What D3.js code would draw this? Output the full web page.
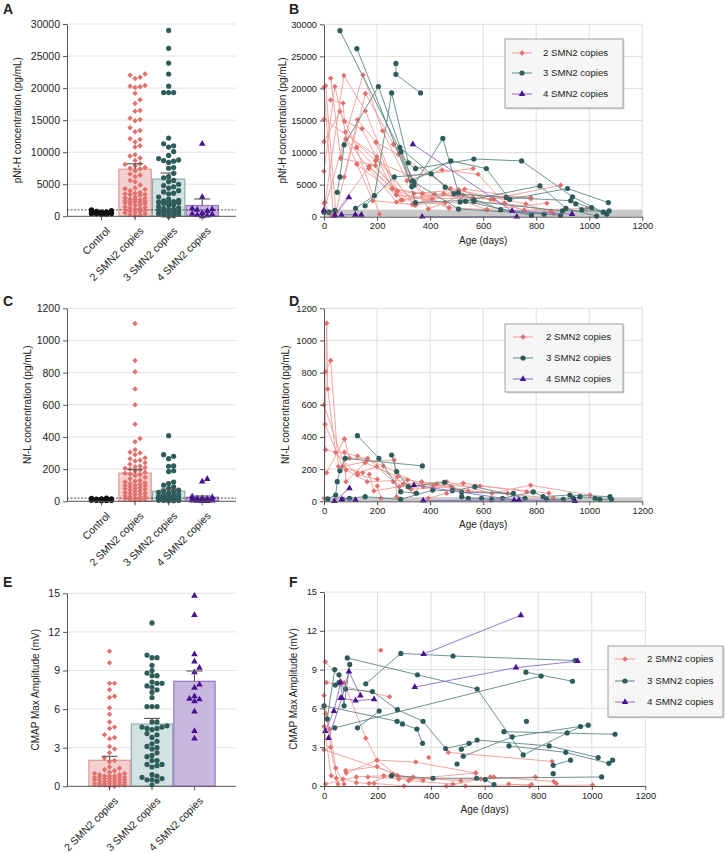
<!DOCTYPE html>
<html><head><meta charset="utf-8">
<script src="https://cdn.jsdelivr.net/npm/d3@7"></script>
<style>body{margin:0;background:#fff;} svg{display:block;font-family:"Liberation Sans",Arial,sans-serif;}</style>
</head><body><svg id="c" width="725" height="853"></svg>
<script>
// ---------- DATA ----------
const catsBar4 = ["Control","2 SMN2 copies","3 SMN2 copies","4 SMN2 copies"];
const catsBar3 = ["2 SMN2 copies","3 SMN2 copies","4 SMN2 copies"];
const legendLabels = ["2 SMN2 copies","3 SMN2 copies","4 SMN2 copies"];
const pnfhTicks = [0,5000,10000,15000,20000,25000,30000];
const nflTicks = [0,200,400,600,800,1000,1200];
const cmapTicks = [0,3,6,9,12,15];
const ageTicks = [0,200,400,600,800,1000,1200];

// Panel A values (pg/mL)
const pnfhCtrl = [350,500,650,420,780,600,300,550,700,450,380,620,520,900,1000,480,300,660,560,400];
const pnfh2 = [22200,22000,21700,21500,20400,20300,20200,20100,19200,18200,17600,16500,16400,15300,15100,14900,13800,13400,13200,12100,12000,11600,11000,10800,9600,9400,9100,8700,8200,8100,7900,7600,7500,7400,7100,6600,6400,6200,5600,5400,4900,4400,4300,4200,4000,3700,3600,3500,3400,3400,3300,3000,2900,2800,2700,2600,2600,2500,2400,2300,2200,2200,2100,2000,1900,1800,1700,1500,1400,1300,1200,1100,1000,900,800,700,600,500,400,300,200,100];
const pnfh3 = [29000,26200,23900,22200,20300,19300,19300,19300,12200,11300,11000,10800,10100,9500,9000,8800,8700,8600,8400,7600,7500,6700,6200,6000,5600,5400,5000,4800,4600,4400,4000,3800,3600,3500,3000,2700,2500,2400,2300,2200,2200,2100,2000,1800,1700,1500,1300,1200,1100,1000,900,800,700,600,500,400,300,200,100,0];
const pnfh4 = [11300,3000,1200,1100,1000,800,500,400,300,200,100,0];
const pnfhMean = [null,7350,5800,1680];
const pnfhErrTop = [null,8200,6750,2700];
const pnfhCutoff = 1000;

// Panel C values (pg/mL)
const nflCtrl = [5,8,12,15,10,6,9,18,14,7,11,4,13,16,9,6,10,12,8,20,5,7];
const nfl2 = [1105,875,806,698,600,479,390,370,320,305,300,290,270,265,255,250,240,230,220,215,210,205,200,195,190,180,175,170,165,160,150,140,130,125,120,115,110,105,100,98,95,90,85,80,78,75,70,65,60,55,50,48,45,40,35,30,28,25,20,18,15,12,10,5];
const nfl3 = [408,290,280,265,220,218,190,185,120,110,100,90,80,70,65,60,55,50,45,40,35,30,30,25,25,22,20,20,18,15,15,12,12,10,10,8,8,6,5,5,4,3];
const nfl4 = [138,122,30,25,20,18,15,12,10,10,8,6,5,5,4,3,2,2];
const nflMean = [null,175,62,25];
const nflErrTop = [null,199,75,33];
const nflCutoff = 20;

// Panel E values (mV)
const cmap2 = [10.5,9.6,8.0,8.0,7.5,7.0,6.9,6.1,5.6,5.0,4.6,4.5,4.0,3.8,3.7,3.1,2.9,2.6,2.2,2.0,1.9,1.5,1.4,1.3,1.2,1.1,1.0,1.0,0.9,0.9,0.8,0.8,0.8,0.7,0.7,0.7,0.7,0.6,0.6,0.6,0.5,0.5,0.5,0.5,0.4,0.4,0.4,0.3,0.3,0.3,0.2,0.2,0.2,0.2,0.1,0.1,0.1,0.1,0.0,0.0];
const cmap3 = [12.7,10.2,10.0,10.0,9.4,9.0,8.8,8.6,8.6,8.1,8.0,8.0,7.8,7.7,7.5,7.3,6.9,6.2,6.2,6.2,5.0,5.0,4.7,4.6,4.6,4.5,4.5,4.4,4.1,4.0,3.8,3.5,3.3,3.1,3.0,2.9,2.6,2.4,2.3,2.0,2.0,1.7,1.7,1.6,1.5,0.9,0.8,0.7,0.6,0.5,0.5,0.4,0.1];
const cmap4 = [14.8,13.3,10.25,9.7,9.2,8.85,7.9,7.65,7.0,6.8,6.75,6.6,5.8,4.3,3.7];
const cmapMean = [2.02,4.84,8.16];
const cmapErrTop = [2.33,5.28,8.96];

// Panel B trajectories [age (days), pNf-H]
const pnfhTraj2 = [
 [[0,20200],[35,250]],
 [[6,20400],[45,600],[170,7800],[296,2600]],
 [[25,21600],[63,9100],[82,12100],[124,8200],[273,3400],[457,2200]],
 [[25,18200],[72,17700],[77,14900],[143,13700],[258,4400],[371,3600],[561,2900]],
 [[0,15200],[199,9400],[340,1900],[508,4200],[755,1000]],
 [[0,11700],[60,16400],[124,10800],[276,4000],[472,1400],[616,1100]],
 [[0,7100],[41,20300],[81,13200],[194,8700],[323,6400],[562,7500]],
 [[4,2200],[75,22000],[156,16500],[290,2600],[417,3500],[628,2700],[892,4900]],
 [[0,1000],[147,22100],[221,13400],[313,5600],[445,7300],[581,6600],[681,2100]],
 [[41,200],[156,19200],[262,11300],[393,1200],[524,3400],[780,3000]],
 [[76,6200],[126,15100],[196,11600],[281,9700],[477,4400],[761,2000],[865,500]],
 [[84,12100],[169,7500],[273,2300],[451,3600],[612,1100],[840,2100]],
 [[122,10800],[209,400]],
 [[124,8200],[184,2500],[333,1900],[457,2200],[681,2100],[855,900]],
 [[171,7900],[258,4400],[339,3600],[507,4200],[755,1000],[991,1300]],
 [[196,11600],[273,3400],[408,2800],[561,2900]],
 [[262,11300],[371,3600],[472,1400]],
 [[199,9000],[345,1900],[417,3500],[640,2700]],
 [[0,2100],[30,200]],
 [[63,9100],[194,8000],[276,4000],[345,1800],[530,4300],[780,2800]]
];
const pnfhTraj3 = [
 [[60,29000],[290,10100],[345,2200],[565,2600]],
 [[124,26200],[331,4700],[339,5400],[507,1200],[830,400]],
 [[271,23900],[271,22200],[364,19300]],
 [[0,700],[19,700],[41,1000]],
 [[50,3800],[60,6200],[76,11200],[205,20300],[333,5600],[478,8700],[612,7500],[700,2700],[918,4400],[1072,2200]],
 [[119,1300],[190,3300],[255,19300],[318,8400],[345,7500],[565,9000],[745,8700],[937,3100],[1053,700]],
 [[155,1700],[265,6200],[404,6700],[457,4600],[534,2400],[782,200]],
 [[286,10800],[490,3600],[687,3000],[930,2500],[1066,400]],
 [[339,4900],[448,12200],[507,3700],[666,1100],[892,200]],
 [[513,2300],[814,4800],[912,1300],[1028,100]],
 [[565,2400],[899,900],[1075,900]],
 [[949,2000],[972,1100],[1009,1400]]
];
const pnfhTraj4 = [
 [[0,1000],[41,200],[94,3000]],
 [[66,300],[118,300],[141,300]],
 [[335,11300],[709,900],[935,400]],
 [[370,0],[727,0]]
];

// Panel D trajectories [age, NfL]
const nflTraj2 = [
 [[1,19],[10,1107],[14,698],[44,303],[126,164],[201,137]],
 [[6,806],[25,875],[54,216],[146,178]],
 [[0,600],[83,195],[163,122],[315,133]],
 [[4,479],[70,216],[158,247],[265,257],[274,29]],
 [[6,320],[126,282],[224,220],[374,91],[525,112],[764,60]],
 [[10,178],[77,388],[96,267],[165,267],[261,122],[328,75],[481,91]],
 [[77,305],[83,122],[155,240],[278,153],[412,95],[588,95],[848,50]],
 [[126,174],[199,216],[299,108],[462,122],[633,50],[779,100],[1003,39]],
 [[171,168],[188,64],[284,91],[425,108],[544,64],[692,50]],
 [[201,95],[215,19]],
 [[343,50],[368,122],[487,75],[865,19]],
 [[393,19],[462,50]],
 [[789,58]]
];
const nflTraj3 = [
 [[126,408],[207,267],[289,60],[349,50]],
 [[255,288],[274,185],[318,91],[454,118],[519,56],[714,50]],
 [[14,15],[44,39],[50,122],[60,190],[80,267],[371,220]],
 [[70,12],[96,19],[155,29],[289,12],[410,70],[484,66],[569,91],[758,19]],
 [[519,29],[544,19],[594,19],[632,12],[673,19],[789,58],[826,29],[927,39],[1078,29]],
 [[839,12],[902,12],[940,19],[965,29],[1022,19],[1040,12],[1084,12]]
];
const nflTraj4 = [
 [[39,2],[96,81]],
 [[67,12],[119,8]],
 [[339,100],[717,8],[946,2]],
 [[374,4],[735,8]]
];

// Panel F trajectories [age, CMAP mV]
const cmapTraj2 = [
 [[5,9.6],[75,8.0],[156,3.7],[198,2.0],[274,0.8],[333,0.7]],
 [[9,8.0],[245,6.9]],
 [[0,7.0],[12,5.1],[25,3.0],[52,0.15]],
 [[6,5.6],[21,4.4],[44,1.4],[75,0.15]],
 [[0,4.6],[27,0.8],[46,0.6]],
 [[0,2.8],[324,0.55],[567,1.0]],
 [[212,10.5]],
 [[81,1.2],[198,1.5],[274,0.8],[370,0.45]],
 [[83,1.0],[198,2.0],[343,1.85],[567,1.0]],
 [[464,2.6],[852,1.9]],
 [[6,0.15],[121,0.7],[223,0.8],[511,0.4],[634,0.7]],
 [[71,0.55],[121,0.25],[168,0.2],[258,0.9],[316,0.4],[482,0.15]],
 [[164,0.7],[279,0.55],[585,0.55],[790,0.7]],
 [[187,0.2],[299,0],[528,0],[775,0.12]],
 [[391,2.2]],
 [[457,0],[621,0.7],[858,0.35],[868,0.2]],
 [[690,0.15],[769,0],[1003,0.08]]
];
const cmapTraj3 = [
 [[0,6.2],[273,5.0],[293,4.8],[347,4.4],[368,3.3]],
 [[40,4.5],[811,8.5]],
 [[42,7.8],[56,8.0],[80,7.5],[181,7.3],[274,5.9],[370,5.0],[454,2.9],[542,3.3]],
 [[87,9.9],[349,8.6],[572,7.5],[744,2.4],[908,4.1],[958,4.6]],
 [[56,8.6],[75,6.2],[96,9.4]],
 [[156,7.9],[287,10.25],[482,10.05],[938,9.7]],
 [[125,4.5],[206,5.8]],
 [[754,8.8],[928,8.1]],
 [[513,2.85],[572,3.55],[841,3.1],[1024,2.2]],
 [[672,4.2],[1087,4.0]],
 [[520,2.3],[703,3.8],[987,4.7]],
 [[691,3.1],[903,2.6],[1064,1.75],[1078,2.0]],
 [[756,5.0]],
 [[497,1.7]],
 [[856,1.6],[921,2.0]],
 [[252,0.8],[407,0.6],[570,0.6],[1037,0.7]],
 [[602,0.5],[635,0.1]],
 [[856,0.95]],
 [[12,5.2],[40,9.0]]
];
const cmapTraj4 = [
 [[5,4.25],[37,5.8],[62,8.0]],
 [[17,3.7],[67,6.8],[93,8.85],[136,7.0]],
 [[62,6.8],[118,6.6],[187,6.7]],
 [[339,7.65],[717,9.15],[947,9.65]],
 [[372,10.2],[735,13.2]]
];

// ---------- STYLES ----------
const ST = {
  ctrl: {pt:"#111111", sym:"circle"},
  c2: {pt:"#E2716D", line:"#EE9D99", bar:"#F3D0D0", barStroke:"#E39795", sym:"diamond"},
  c3: {pt:"#2E5C5A", line:"#5E8784", bar:"#D2E2E2", barStroke:"#8CACAA", sym:"circle"},
  c4: {pt:"#4A1290", line:"#8B6BC2", bar:"#C9B7E0", barStroke:"#9377C0", sym:"triangle"}
};
const svg = d3.select("#c");
const FONT = '"Liberation Sans",Arial,sans-serif';

function marker(g, x, y, kind, color){
  if(kind==="circle"){
    g.append("circle").attr("cx",x).attr("cy",y).attr("r",2.6).attr("fill",color);
  } else if(kind==="diamond"){
    g.append("path").attr("d", d3.symbol().type(d3.symbolSquare).size(15)())
      .attr("transform",`translate(${x},${y}) rotate(45)`).attr("fill",color);
  } else {
    g.append("path").attr("d", d3.symbol().type(d3.symbolTriangle).size(19)())
      .attr("transform",`translate(${x},${y})`).attr("fill",color);
  }
}

function swarm(vals, y, r, maxHalf){
  const pts = vals.map(v=>({y:y(v)})).sort((a,b)=>b.y-a.y);
  const placed=[]; const need=(2*r)*(2*r)*0.92; const step=2*r;
  for(const p of pts){
    let chosen=null, best=-1, bestOff=0;
    for(let k=0;k<40;k++){
      const off=(k%2?1:-1)*Math.ceil(k/2)*step;
      if(Math.abs(off)>maxHalf) continue;
      let minD=Infinity;
      for(const q of placed){
        if(Math.abs(q.y-p.y)>2*r) continue;
        const dd=(q.dx-off)**2+(q.y-p.y)**2;
        if(dd<minD) minD=dd;
      }
      if(minD>=need){chosen=off;break;}
      if(minD>best){best=minD;bestOff=off;}
    }
    p.dx = chosen!==null?chosen:bestOff;
    placed.push(p);
  }
  return placed;
}

function styleAxis(sel, fs){
  sel.select(".domain").attr("stroke","#555");
  sel.selectAll(".tick line").attr("stroke","#555");
  sel.selectAll(".tick text").attr("fill","#222").style("font-size",fs+"px").style("font-family",FONT);
}

function panelLetter(t,x,y){
  svg.append("text").attr("x",x).attr("y",y).text(t)
    .style("font-weight","bold").style("font-size","14px").attr("fill","#222");
}

function barPanel(o){
  const g = svg.append("g");
  const L=67, R=236;
  const y = d3.scaleLinear().domain([0,o.max]).range([o.bottom,o.top]);
  const x = d3.scaleBand().domain(o.cats).range(o.range).padding(0);
  g.selectAll("line.grid").data(o.ticks.filter(t=>t>0)).join("line")
    .attr("x1",L).attr("x2",R).attr("y1",d=>y(d)).attr("y2",d=>y(d))
    .attr("stroke","#E3E3E3").attr("stroke-width",1);
  o.cats.forEach((c,i)=>{
    if(o.mean[i]==null) return;
    const st=o.styles[i];
    g.append("rect").attr("x",x(c)+0.6).attr("y",y(o.mean[i])).attr("width",x.bandwidth()-1.2)
      .attr("height",o.bottom-y(o.mean[i])).attr("fill",st.bar).attr("stroke",st.barStroke).attr("stroke-width",1.2);
  });
  if(o.cutoff!=null){
    g.append("line").attr("x1",L).attr("x2",R).attr("y1",y(o.cutoff)).attr("y2",y(o.cutoff))
      .attr("stroke","#222").attr("stroke-width",0.8).attr("stroke-dasharray","2,1.5");
  }
  o.cats.forEach((c,i)=>{
    const cx = x(c)+x.bandwidth()/2;
    const st=o.styles[i];
    swarm(o.values[i], y, 2.5, x.bandwidth()/2-3).forEach(p=>marker(g,cx+p.dx,p.y,st.sym,st.pt));
  });
  o.cats.forEach((c,i)=>{
    if(o.mean[i]==null) return;
    const cx = x(c)+x.bandwidth()/2;
    g.append("line").attr("x1",cx).attr("x2",cx).attr("y1",y(o.mean[i])).attr("y2",y(o.errTop[i])).attr("stroke","#555").attr("stroke-width",1.1);
    g.append("line").attr("x1",cx-8).attr("x2",cx+8).attr("y1",y(o.errTop[i])).attr("y2",y(o.errTop[i])).attr("stroke","#555").attr("stroke-width",1.1);
  });
  const ya = g.append("g").attr("transform",`translate(${L},0)`)
    .call(d3.axisLeft(y).tickValues(o.ticks).tickSize(4).tickSizeOuter(0).tickPadding(3).tickFormat(d3.format("d")));
  styleAxis(ya,10.5);
  g.append("line").attr("x1",L).attr("x2",R).attr("y1",o.bottom).attr("y2",o.bottom).attr("stroke","#555");
  o.cats.forEach(c=>{
    const cx = x(c)+x.bandwidth()/2;
    g.append("line").attr("x1",cx).attr("x2",cx).attr("y1",o.bottom).attr("y2",o.bottom+4).attr("stroke","#555");
    g.append("text").attr("transform",`translate(${cx+4},${o.bottom+10}) rotate(-45)`)
      .attr("text-anchor","end").attr("dy","0.7em").text(c)
      .style("font-size","10.5px").attr("fill","#222");
  });
  g.append("text").attr("transform",`translate(${o.titleX},${(o.top+o.bottom)/2}) rotate(-90)`)
    .attr("text-anchor","middle").attr("dy","0.35em").text(o.title).style("font-size","10px").attr("fill","#222");
}

function linePanel(o){
  const g = svg.append("g");
  const L=324;
  const x = d3.scaleLinear().domain([0,1200]).range([L,o.right]);
  const y = d3.scaleLinear().domain([0,o.max]).range([o.bottom,o.top]);
  g.selectAll("line.vg").data(ageTicks.filter(t=>t>0)).join("line")
    .attr("x1",d=>x(d)).attr("x2",d=>x(d)).attr("y1",o.top).attr("y2",o.bottom).attr("stroke","#DEDEDE");
  g.selectAll("line.hg").data(o.ticks.filter(t=>t>0)).join("line")
    .attr("x1",L).attr("x2",o.right).attr("y1",d=>y(d)).attr("y2",d=>y(d)).attr("stroke","#DEDEDE");
  if(o.band!=null){
    g.append("rect").attr("x",L).attr("y",y(o.band)).attr("width",o.right-L).attr("height",o.bottom-y(o.band)).attr("fill","#C9C9C9");
  }
  const line = d3.line().x(d=>x(d[0])).y(d=>y(d[1]));
  o.groups.forEach(gr=>{
    gr.traj.forEach(t=>{
      if(t.length>1) g.append("path").attr("d",line(t)).attr("fill","none").attr("stroke",gr.st.line).attr("stroke-width",0.9);
    });
    gr.traj.forEach(t=>t.forEach(p=>marker(g,x(p[0]),y(p[1]),gr.st.sym,gr.st.pt)));
  });
  const ya = g.append("g").attr("transform",`translate(${L},0)`)
    .call(d3.axisLeft(y).tickValues(o.ticks).tickSize(4).tickSizeOuter(0).tickPadding(3).tickFormat(d3.format("d")));
  styleAxis(ya,9.3);
  const xa = g.append("g").attr("transform",`translate(0,${o.bottom})`)
    .call(d3.axisBottom(x).tickValues(ageTicks).tickSize(4).tickSizeOuter(0).tickPadding(2).tickFormat(d3.format("d")));
  styleAxis(xa,9.3);
  g.append("text").attr("x",(L+o.right)/2).attr("y",o.bottom+27).attr("text-anchor","middle").text("Age (days)")
    .style("font-size","10px").attr("fill","#222");
  g.append("text").attr("transform",`translate(${o.titleX},${(o.top+o.bottom)/2}) rotate(-90)`)
    .attr("text-anchor","middle").attr("dy","0.35em").text(o.title).style("font-size","10px").attr("fill","#222");
  // legend
  const lg = o.legend;
  g.append("rect").attr("x",lg.x+1.5).attr("y",lg.y+1.5).attr("width",lg.w).attr("height",lg.h).attr("fill","#D8D8D8");
  g.append("rect").attr("x",lg.x).attr("y",lg.y).attr("width",lg.w).attr("height",lg.h).attr("fill","#F6F6F6").attr("stroke","#A0A0A0").attr("stroke-width",1);
  o.groups.forEach((gr,i)=>{
    const yy = lg.rows[i];
    g.append("line").attr("x1",lg.lx).attr("x2",lg.lx+20).attr("y1",yy).attr("y2",yy).attr("stroke",gr.st.line).attr("stroke-width",1);
    marker(g,lg.lx+10,yy,gr.st.sym,gr.st.pt);
    g.append("text").attr("x",lg.tx).attr("y",yy).attr("dy","0.35em").text(legendLabels[i])
      .style("font-size",lg.fs+"px").attr("fill","#222");
  });
}

// ---------- PANELS ----------
barPanel({top:24,bottom:216.3,max:30000,ticks:pnfhTicks,cats:catsBar4,range:[84.7,219],
  values:[pnfhCtrl,pnfh2,pnfh3,pnfh4],mean:pnfhMean,errTop:pnfhErrTop,cutoff:pnfhCutoff,
  styles:[ST.ctrl,ST.c2,ST.c3,ST.c4],title:"pNf-H concentration (pg/mL)",titleX:17});
barPanel({top:308.3,bottom:501.3,max:1200,ticks:nflTicks,cats:catsBar4,range:[84.7,219],
  values:[nflCtrl,nfl2,nfl3,nfl4],mean:nflMean,errTop:nflErrTop,cutoff:nflCutoff,
  styles:[ST.ctrl,ST.c2,ST.c3,ST.c4],title:"Nf-L concentration (pg/mL)",titleX:27});
barPanel({top:593.3,bottom:786.3,max:15,ticks:cmapTicks,cats:catsBar3,range:[88.3,215.7],
  values:[cmap2,cmap3,cmap4],mean:cmapMean,errTop:cmapErrTop,cutoff:null,
  styles:[ST.c2,ST.c3,ST.c4],title:"CMAP Max Amplitude (mV)",titleX:35});

const grp = (a,b,c)=>[{traj:a,st:ST.c2},{traj:b,st:ST.c3},{traj:c,st:ST.c4}];
linePanel({top:24.3,bottom:216.7,right:642.3,max:30000,ticks:pnfhTicks,band:1100,
  groups:grp(pnfhTraj2,pnfhTraj3,pnfhTraj4),title:"pNf-H concentration (pg/mL)",titleX:282,
  legend:{x:505,y:39,w:118,h:69,rows:[53,73,94],lx:512,tx:543,fs:9.6}});
linePanel({top:308.3,bottom:501.3,right:642.3,max:1200,ticks:nflTicks,band:25,
  groups:grp(nflTraj2,nflTraj3,nflTraj4),title:"Nf-L concentration (pg/mL)",titleX:285,
  legend:{x:505,y:324,w:118,h:68,rows:[337,358,379],lx:513,tx:546,fs:9.6}});
linePanel({top:592,bottom:786,right:645.3,max:15,ticks:cmapTicks,band:null,
  groups:grp(cmapTraj2,cmapTraj3,cmapTraj4),title:"CMAP Max Amplitude (mV)",titleX:293,
  legend:{x:608,y:646,w:115,h:71,rows:[659,681,702],lx:615,tx:647,fs:9.8}});

panelLetter("A",3,14); panelLetter("B",289,14);
panelLetter("C",3,306); panelLetter("D",289,306);
panelLetter("E",3,587); panelLetter("F",289,587);
</script></body></html>
